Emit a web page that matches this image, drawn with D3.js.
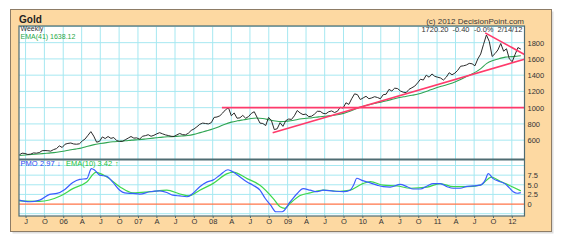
<!DOCTYPE html>
<html>
<head>
<meta charset="utf-8">
<script src="https://cdn.jsdelivr.net/npm/d3@7"></script>
<style>
  body { margin: 0; background: #fff; }
  text { font-family: "Liberation Sans", Arial, sans-serif; }
</style>
</head>
<body>
<div class="canvas"></div>
<script>
const parse = d3.timeParse('%Y-%m-%d');

// weekly closes, read every second week starting 2005-05-31
const priceStart = '2005-05-31';
const priceValues = [
    418, 440, 436, 424, 428, 443, 440, 447, 470, 472, 470, 465, 484, 496, 530, 510,
    550, 560, 565, 553, 550, 555, 590, 615, 660, 705, 650, 575, 585, 640, 620, 645, 622, 632, 595, 585, 585, 605, 625, 645, 625, 628,
    612, 648, 655, 667, 648, 660, 678, 692, 678, 665, 657, 648, 645, 665, 682, 668, 665, 685, 720, 738, 765, 795, 810, 805, 800, 815,
    880, 885, 900, 935, 975, 1000, 900, 935, 870, 875, 905, 870, 890, 930, 950, 880, 810, 805, 780, 880, 840, 730, 740, 815, 770, 840,
    860, 855, 900, 965, 935, 915, 920, 890, 895, 920, 955, 955, 930, 925, 950, 960, 940, 955, 1005, 995, 1060, 1040, 1110, 1170, 1160, 1100,
    1120, 1140, 1110, 1120, 1135, 1125, 1110, 1160, 1165, 1225, 1205, 1240, 1235, 1205, 1190, 1185, 1225, 1245, 1265, 1305, 1350, 1340, 1400, 1375, 1415, 1385,
    1375, 1365, 1340, 1375, 1430, 1405, 1425, 1460, 1510, 1515, 1525, 1545, 1540, 1515, 1600, 1660, 1780, 1895, 1815, 1630, 1665, 1710, 1790, 1695, 1725, 1600,
    1565, 1655, 1740, 1720.2
];

// EMA(41), first of each month Jun 2005 - Feb 2012, then the last week
const emaValues = [
    412, 418, 423, 429, 436, 443, 452,
    464, 478, 490, 504, 526, 545, 558, 570, 580, 586, 592, 600,
    606, 613, 621, 629, 637, 642, 646, 651, 657, 671, 693, 714,
    737, 766, 797, 822, 838, 851, 864, 872, 866, 852, 836, 828,
    834, 845, 860, 869, 876, 887, 894, 902, 912, 930, 955, 988,
    1015, 1035, 1052, 1068, 1086, 1106, 1124, 1138, 1152, 1168, 1192, 1220,
    1248, 1270, 1290, 1318, 1352, 1392, 1428, 1478, 1545, 1580, 1604, 1622,
    1628, 1636, 1638.12
];

const pmoDates = [
    '2005-05-31', '2005-07-21', '2005-09-08', '2005-10-27', '2005-12-01', '2006-01-09', '2006-02-17', '2006-03-23',
    '2006-04-26', '2006-05-19', '2006-06-04', '2006-06-28', '2006-08-02', '2006-08-31', '2006-10-04', '2006-10-28',
    '2006-12-07', '2007-01-10', '2007-02-28', '2007-04-18', '2007-05-22', '2007-06-20', '2007-07-25', '2007-08-28',
    '2007-09-26', '2007-10-30', '2007-12-03', '2008-01-02', '2008-02-05', '2008-03-16', '2008-04-10', '2008-05-14',
    '2008-06-17', '2008-07-16', '2008-08-19', '2008-09-13', '2008-10-10', '2008-11-05', '2008-12-05', '2009-01-14',
    '2009-02-17', '2009-03-18', '2009-04-21', '2009-05-25', '2009-06-24', '2009-08-12', '2009-09-30', '2009-11-02',
    '2009-11-20', '2009-12-05', '2009-12-27', '2010-02-09', '2010-03-14', '2010-04-13', '2010-05-17', '2010-07-05',
    '2010-08-08', '2010-09-06', '2010-10-11', '2010-11-14', '2010-12-13', '2011-01-16', '2011-02-19', '2011-03-21',
    '2011-04-24', '2011-05-28', '2011-06-27', '2011-07-31', '2011-08-24', '2011-09-08', '2011-10-02', '2011-11-05',
    '2011-11-28', '2011-12-20', '2012-01-08', '2012-01-27', '2012-02-14'
];
const pmoValues = [
    1.0, 0.6, 1.0, 2.5, 2.75, 3.8, 5.6, 6.4,
    6.6, 9.2, 8.8, 7.5, 7.2, 5.7, 3.6, 2.9,
    2.75, 2.6, 3.2, 3.4, 3.0, 2.3, 2.1, 1.9,
    2.75, 4.5, 5.7, 6.2, 7.5, 8.9, 8.3, 7.0,
    5.7, 4.9, 3.6, 1.5, -0.3, -2.0, -2.0, 0.6,
    2.75, 4.0, 3.6, 3.2, 3.6, 3.35, 3.2, 3.6,
    5.0, 6.7, 6.2, 5.5, 4.9, 4.5, 4.4, 5.1,
    4.5, 3.9, 3.9, 4.7, 5.3, 5.3, 4.5, 4.1,
    4.1, 4.6, 4.7, 4.9, 6.2, 7.9, 6.6, 5.8,
    5.3, 4.2, 3.2, 2.8, 2.97
];

const signalDates = [
    '2005-05-31', '2005-09-08', '2005-12-18', '2006-02-17', '2006-04-26', '2006-06-10', '2006-08-02', '2006-10-04',
    '2006-12-07', '2007-02-28', '2007-05-22', '2007-07-25', '2007-09-08', '2007-10-30', '2008-01-02', '2008-03-12',
    '2008-04-10', '2008-06-17', '2008-08-19', '2008-10-22', '2008-11-25', '2008-12-19', '2009-01-14', '2009-03-03',
    '2009-04-21', '2009-06-24', '2009-09-14', '2009-11-02', '2010-01-03', '2010-02-09', '2010-04-13', '2010-06-20',
    '2010-08-23', '2010-11-14', '2011-01-16', '2011-03-21', '2011-05-28', '2011-07-31', '2011-09-24', '2011-11-05',
    '2011-12-02', '2012-01-03', '2012-02-14'
];
const signalValues = [
    0.8, 0.7, 2.1, 4.0, 5.7, 8.2, 7.0, 4.5,
    2.9, 3.2, 3.6, 2.6, 2.1, 3.6, 5.3, 7.9,
    8.3, 6.6, 4.9, 1.5, -0.7, -1.1, 0.2, 2.2,
    2.9, 3.6, 3.3, 3.6, 5.3, 5.8, 4.9, 4.7,
    4.1, 4.4, 5.3, 4.5, 4.5, 4.9, 7.0, 5.9,
    5.3, 4.5, 3.42
];

// trend lines drawn on the chart: [date, price] end points
const supportLine = [['2008-10-20', 690], ['2012-03-03', 1597]];
const resistLine = [['2011-08-24', 1920], ['2012-03-03', 1655]];
const levelLine = [['2008-02-15', 1000], ['2012-03-03', 1000]];

const priceTicks = [600, 800, 1000, 1200, 1400, 1600, 1800];
const priceGrid = [600, 800, 1000, 1200, 1400, 1600, 1800, 2000];
const pmoTicks = [0, 2.5, 5, 7.5];
const pmoGrid = [-2.5, 2.5, 5, 7.5, 10];
const quarterNames = { 3: 'A', 6: 'J', 9: 'O' };

const price = priceValues.map((v, i) => ({ date: d3.timeDay.offset(parse(priceStart), i * 14), value: v }));
const emaDates = d3.timeMonth.range(parse('2005-06-01'), parse('2012-02-02')).concat([parse('2012-02-14')]);
const ema = emaValues.map((v, i) => ({ date: emaDates[i], value: v }));
const pmo = pmoValues.map((v, i) => ({ date: parse(pmoDates[i]), value: v }));
const signal = signalValues.map((v, i) => ({ date: parse(signalDates[i]), value: v }));

const svg = d3.select('.canvas')
    .append('svg')
    .attr('width', 563)
    .attr('height', 246);

const plot = { left: 19, right: 524.5, top: 26, split: 159.5, bottom: 216 };

const x = d3.scaleTime()
    .domain([parse('2005-05-30'), parse('2012-03-03')])
    .range([plot.left, plot.right]);

const y = d3.scaleLinear()
    .domain([362, 2005])
    .range([plot.split, plot.top]);

const yPmo = d3.scaleLinear()
    .domain([-3.1, 11.56])
    .range([plot.bottom, plot.split]);

// frame
svg.append('rect')
    .attr('x', 12.5).attr('y', 11.5).attr('width', 541).attr('height', 222)
    .attr('fill', '#dedede');
svg.append('rect')
    .attr('x', 10.5).attr('y', 9.5).attr('width', 541).attr('height', 222)
    .attr('fill', '#fdd9a2').attr('stroke', '#8d7c66');
svg.append('rect')
    .attr('x', plot.left).attr('y', plot.top)
    .attr('width', plot.right - plot.left).attr('height', plot.bottom - plot.top)
    .attr('fill', '#fff');

svg.append('clipPath').attr('id', 'clip')
    .append('rect')
    .attr('x', plot.left).attr('y', plot.top)
    .attr('width', plot.right - plot.left).attr('height', plot.bottom - plot.top);

const grid = svg.append('g').attr('stroke', '#a6e8f1').attr('stroke-width', 1);
const quarters = x.ticks(d3.timeMonth.every(3));

grid.selectAll('.vx').data(quarters).enter().append('line')
    .attr('x1', d => x(d)).attr('x2', d => x(d))
    .attr('y1', plot.top).attr('y2', plot.bottom);
grid.selectAll('.hp').data(priceGrid).enter().append('line')
    .attr('x1', plot.left).attr('x2', plot.right)
    .attr('y1', d => y(d)).attr('y2', d => y(d));
grid.selectAll('.hm').data(pmoGrid).enter().append('line')
    .attr('x1', plot.left).attr('x2', plot.right)
    .attr('y1', d => yPmo(d)).attr('y2', d => yPmo(d));

const lines = svg.append('g').attr('clip-path', 'url(#clip)');

const priceLine = d3.line().x(d => x(d.date)).y(d => y(d.value));
const smoothLine = d3.line().x(d => x(d.date)).y(d => y(d.value)).curve(d3.curveMonotoneX);
const pmoLine = d3.line().x(d => x(d.date)).y(d => yPmo(d.value)).curve(d3.curveMonotoneX);
const trend = d3.line().x(d => x(parse(d[0]))).y(d => y(d[1]));

lines.append('path').datum(ema)
    .attr('d', smoothLine).attr('fill', 'none')
    .attr('stroke', '#2fa552').attr('stroke-width', 1.1);

lines.append('path').datum(price)
    .attr('d', priceLine).attr('fill', 'none')
    .attr('stroke', '#2a2a2a').attr('stroke-width', 1);

[supportLine, resistLine, levelLine].forEach(t => {
    lines.append('path').datum(t)
        .attr('d', trend).attr('fill', 'none')
        .attr('stroke', '#ff3a6b').attr('stroke-width', 1.6);
});

lines.append('line')
    .attr('x1', plot.left).attr('x2', plot.right)
    .attr('y1', yPmo(0)).attr('y2', yPmo(0))
    .attr('stroke', '#ff7448').attr('stroke-width', 1.2);

lines.append('path').datum(signal)
    .attr('d', pmoLine).attr('fill', 'none')
    .attr('stroke', '#3ed84c').attr('stroke-width', 1.2);

lines.append('path').datum(pmo)
    .attr('d', pmoLine).attr('fill', 'none')
    .attr('stroke', '#3a5cff').attr('stroke-width', 1.2);

// borders
svg.append('rect')
    .attr('x', plot.left).attr('y', plot.top)
    .attr('width', plot.right - plot.left).attr('height', plot.bottom - plot.top)
    .attr('fill', 'none').attr('stroke', '#4f6c72').attr('stroke-width', 1.2);
svg.append('line')
    .attr('x1', plot.left).attr('x2', plot.right)
    .attr('y1', plot.split).attr('y2', plot.split)
    .attr('stroke', '#4f6c72').attr('stroke-width', 2);

// axes
const xAxis = d3.axisBottom(x)
    .tickValues(quarters)
    .tickSize(2)
    .tickPadding(1)
    .tickFormat(d => d.getMonth() === 0 ? d3.timeFormat('%y')(d) : quarterNames[d.getMonth()]);

const yAxis = d3.axisRight(y)
    .tickValues(priceTicks)
    .tickSize(0)
    .tickPadding(3)
    .tickFormat(d3.format('d'));

const pmoAxis = d3.axisRight(yPmo)
    .tickValues(pmoTicks)
    .tickSize(0)
    .tickPadding(3)
    .tickFormat(d => d === 0 ? '0' : d3.format('.1f')(d));

const xAxisGroup = svg.append('g').attr('transform', `translate(0, ${plot.bottom})`).call(xAxis);
const yAxisGroup = svg.append('g').attr('transform', `translate(${plot.right}, 0)`).call(yAxis);
const pmoAxisGroup = svg.append('g').attr('transform', `translate(${plot.right}, 0)`).call(pmoAxis);

[xAxisGroup, yAxisGroup, pmoAxisGroup].forEach(g => {
    g.select('.domain').remove();
    g.selectAll('line').attr('stroke', '#4f6c72');
    g.selectAll('text')
        .attr('font-family', '"Liberation Sans", Arial, sans-serif')
        .attr('font-size', '7.5px')
        .attr('fill', '#333');
});

// titles and legends
const label = (tx, ty, str, opts = {}) => svg.append('text')
    .attr('x', tx).attr('y', ty)
    .attr('font-size', opts.size || '7.5px')
    .attr('font-weight', opts.weight || 'normal')
    .attr('text-anchor', opts.anchor || 'start')
    .attr('fill', opts.color || '#333')
    .text(str);

label(19, 22.5, 'Gold', { size: '10px', weight: 'bold', color: '#222' });
label(524, 24, '(c) 2012 DecisionPoint.com', { size: '8px', anchor: 'end', color: '#3a3a3a' });
label(20.5, 31, 'Weekly', { size: '7px' });
label(20.5, 38.5, `EMA(41) ${emaValues[emaValues.length - 1].toFixed(2)}`, { size: '7px', color: '#1fa846' });

const lastClose = priceValues[priceValues.length - 1];
label(448.5, 32, lastClose.toFixed(2), { anchor: 'end' });
label(469.5, 32, '-0.40', { anchor: 'end' });
label(493.5, 32, '-0.0%', { anchor: 'end' });
label(522.5, 32, '2/14/12', { anchor: 'end' });

label(20.5, 166, 'PMO', { color: '#2a48f0' });
label(40, 166, pmoValues[pmoValues.length - 1].toFixed(2), { color: '#2a48f0' });
label(57, 166, '\u2193', { color: '#2a48f0', weight: 'bold' });
label(66, 166, 'EMA(10)', { color: '#22c23c' });
label(97.5, 166, signalValues[signalValues.length - 1].toFixed(2), { color: '#22c23c' });
label(115, 166, '\u2191', { color: '#22c23c', weight: 'bold' });
</script>
</body>
</html>
